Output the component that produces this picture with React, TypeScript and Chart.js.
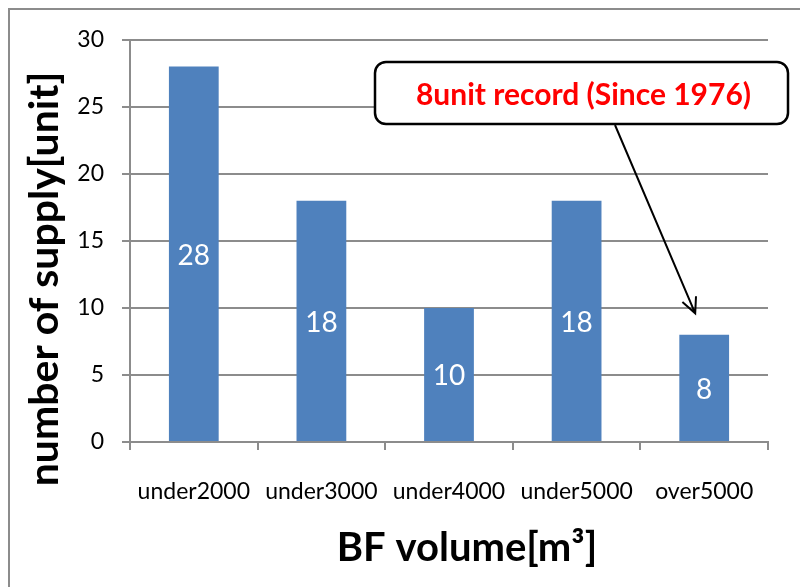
import React, { useEffect, useRef } from "react";
import { Chart, registerables } from "chart.js";

Chart.register(...registerables);

const categories = ["under2000", "under3000", "under4000", "under5000", "over5000"];
const supplyCounts = [28, 18, 10, 18, 8];
const yTicksMax = 30;
const yTickStep = 5;
const xAxisTitle = "BF volume[m³]";
const yAxisTitle = "number of supply[unit]";
const calloutText = "8unit record (Since 1976)";
const calloutTargetIndex = 4;
const calloutTargetValue = 9.6;

const GRID = "#8c8c8c";
const BAR = "#4f81bd";
const FONT = "Lato, 'Open Sans', sans-serif";

const W = 800;
const H = 579;

const decorPlugin = {
  id: "decor",
  beforeDraw(chart: any) {
    const ctx = chart.ctx;
    ctx.save();
    ctx.fillStyle = "#ffffff";
    ctx.fillRect(0, 0, chart.width, chart.height);
    ctx.strokeStyle = GRID;
    ctx.lineWidth = 2;
    ctx.beginPath();
    ctx.moveTo(1, chart.height);
    ctx.lineTo(1, 1);
    ctx.lineTo(chart.width, 1);
    ctx.stroke();
    ctx.restore();
  },
  afterDatasetsDraw(chart: any) {
    const ctx = chart.ctx;
    const meta = chart.getDatasetMeta(0);
    ctx.save();
    ctx.fillStyle = "#ffffff";
    ctx.font = `28px ${FONT}`;
    ctx.textAlign = "center";
    ctx.textBaseline = "middle";
    meta.data.forEach((bar: any, i: number) => {
      const v = chart.data.datasets[0].data[i];
      ctx.fillText(String(v), bar.x, (bar.y + bar.base) / 2 + 2);
    });
    ctx.restore();
  },
  afterDraw(chart: any) {
    const ctx = chart.ctx;
    const xs = chart.scales.x;
    const ys = chart.scales.y;
    ctx.save();
    // axis titles
    ctx.fillStyle = "#000000";
    ctx.font = `bold 40px ${FONT}`;
    ctx.textAlign = "center";
    ctx.textBaseline = "middle";
    ctx.fillText(xAxisTitle, 459, 540);
    ctx.save();
    ctx.translate(37, 271);
    ctx.rotate(-Math.PI / 2);
    ctx.font = `bold 41px ${FONT}`;
    ctx.fillText(yAxisTitle, 0, 0);
    ctx.restore();

    // callout box
    const bx = 367, by = 54, bw = 413, bh = 62, r = 11;
    ctx.fillStyle = "#ffffff";
    ctx.strokeStyle = "#000000";
    ctx.lineWidth = 2.5;
    ctx.beginPath();
    ctx.roundRect(bx, by, bw, bh, r);
    ctx.fill();
    ctx.stroke();
    ctx.fillStyle = "#ff0000";
    ctx.font = `bold 30px ${FONT}`;
    ctx.fillText(calloutText, bx + bw / 2 + 2, by + bh / 2 + 2);

    // arrow
    const sx = 607, sy = by + bh + 1;
    const tx = xs.getPixelForValue(calloutTargetIndex) - 9;
    const ty = ys.getPixelForValue(calloutTargetValue);
    ctx.lineWidth = 2;
    ctx.beginPath();
    ctx.moveTo(sx, sy);
    ctx.lineTo(tx, ty);
    const ang = Math.atan2(ty - sy, tx - sx);
    const hl = 17, ha = 0.45;
    ctx.moveTo(tx - hl * Math.cos(ang - ha), ty - hl * Math.sin(ang - ha));
    ctx.lineTo(tx, ty);
    ctx.lineTo(tx - hl * Math.cos(ang + ha), ty - hl * Math.sin(ang + ha));
    ctx.stroke();
    ctx.restore();
  },
};

export default function App() {
  const ref = useRef<HTMLCanvasElement | null>(null);
  useEffect(() => {
    document.documentElement.style.overflow = "hidden";
    document.body.style.overflow = "hidden";
    const canvas = ref.current!;
    const chart = new Chart(canvas, {
      type: "bar",
      data: {
        labels: categories,
        datasets: [
          {
            data: supplyCounts,
            backgroundColor: BAR,
            borderWidth: 0,
            barPercentage: 0.39,
            categoryPercentage: 1,
          },
        ],
      },
      options: {
        responsive: false,
        animation: false,
        devicePixelRatio: 1,
        layout: { padding: { left: 0, right: 40, top: 29, bottom: 0 } },
        plugins: {
          legend: { display: false },
          tooltip: { enabled: false },
          title: { display: false },
        },
        scales: {
          x: {
            offset: true,
            grid: {
              display: true,
              drawOnChartArea: false,
              drawTicks: true,
              tickLength: 8,
              color: GRID,
              lineWidth: 2,
              offset: true,
            },
            border: { display: true, color: GRID, width: 2 },
            ticks: {
              color: "#000000",
              font: { family: FONT, size: 23 },
              padding: 28,
              maxRotation: 0,
              autoSkip: false,
            },
            afterFit(scale: any) {
              scale.height = 145;
            },
          },
          y: {
            min: 0,
            max: yTicksMax,
            grid: {
              color: GRID,
              lineWidth: 2,
              drawTicks: true,
              tickLength: 8,
            },
            border: { display: true, color: GRID, width: 2 },
            ticks: {
              stepSize: yTickStep,
              color: "#000000",
              font: { family: FONT, size: 23 },
              padding: 18,
            },
            afterFit(scale: any) {
              scale.width = 122;
            },
          },
        },
      },
      plugins: [decorPlugin],
    });
    return () => chart.destroy();
  }, []);
  return <canvas ref={ref} width={W} height={H} style={{ display: "block" }} />;
}
